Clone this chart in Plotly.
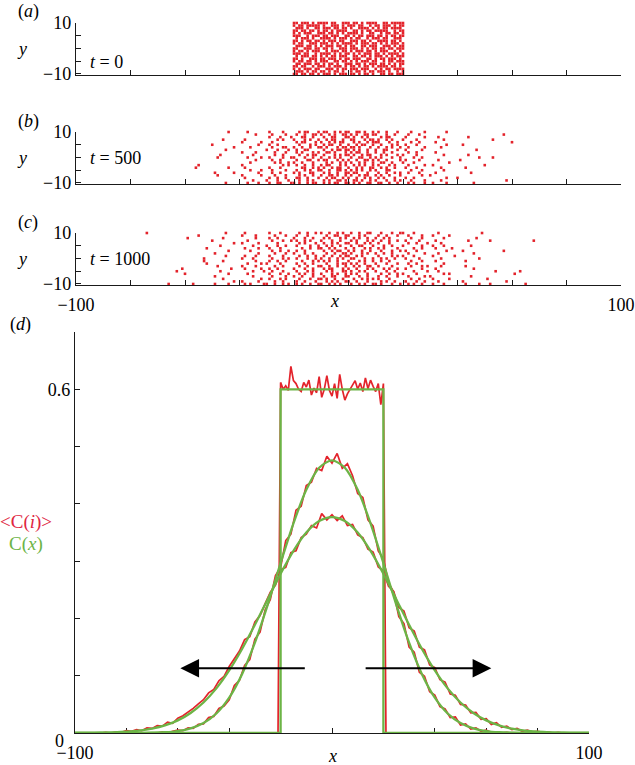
import plotly.graph_objects as go

W, H = 635, 765
FONT = "Liberation Serif, Times New Roman, serif"
RED = "#e3232b"
RED_TXT = "#e0263f"
GREEN = "#6cb446"
AXC = "#1a1a1a"

# ---------------- data ----------------
x_tick_vals = [-100, -80, -60, -40, -20, 0, 20, 40, 60, 80, 100]
x_tick_text_edge = ["\u2212100", "", "", "", "", "", "", "", "", "", "100"]
y_tick_vals_abc = [-10, -5, 0, 5, 10]
y_tick_text_abc = ["\u221210", "", "", "", "10"]
y_tick_vals_d = [0, 0.1, 0.2, 0.3, 0.4, 0.5, 0.6, 0.7]
y_tick_text_d = ["", "", "", "", "", "", "0.6", ""]

# lattice occupancy rows, y = 10 .. -10 ('o' = occupied site, '|' = chunk separator only)
panel_a_x0 = -20
panel_a_rows = [
    "oo.ooo.o.oooo.oo..ooo.oo.o.oooo..oo.ooooo",
    "o.oo.ooooo.o..ooo.o.ooo.oo..o.oo.ooo.o.oo",
    ".ooo.o..oo.ooo.oo.oo.o..oooo.o.o.oo.oooo.",
    "oo.oo.oo.o.oo.o.oooo..oo.o.oo.ooooo..o.oo",
    "o.o.ooo..ooo.oo.o.o.oooo.o..oo..o.oo.oo.o",
    "ooo..o.ooo.oo.ooo..oo.o.oo.ooo.oo.o.oo.oo",
    ".o.ooo.o..oooo.o.ooo.o.oo..o.ooo.oo..ooo.",
    "oo.o.oo.oo.o.ooo.oo..ooo.oo.o..oooo.oo.o.",
    "o.oo..ooo.ooo.o.o.oooo.o.ooo.oo.o.o.ooo.o",
    ".ooo.oo.o.o.ooo.oo.o.oo..oo.ooo..ooo.o.oo",
    "oo..ooo.oo.oo.o..ooo.ooo.o.o.oo.oo.oo.ooo",
    "o.oo.o.ooo..o.ooo.oo.o.ooo.oo.o.ooo..o.o.",
    "ooo.oo..o.oooo.o.o.oo.o.o.ooo.oo.o.oooo.o",
    ".o.ooo.oo.o.o.oo.ooo..oo.oo.o.ooo.o.o.ooo",
    "oo.o..ooo.oo.ooo.o.oo.ooo..oo.o.oo.ooo.o.",
    "o.oo.oo.o.ooo..oo.oo.o.o.ooo.oo..o.oo.ooo",
    ".oo.ooo.oo.o.oo.o..ooo.oo.o.ooo.oo.o.o.oo",
    "oo.oo..o.ooo.o.ooo.o.oo.o.oo.o.oooo.oo.o.",
    "o.o.ooo.oo..ooo.o.oo.ooo.ooo..o.o.oo.oooo",
    ".ooo.o.oo.oo.o.oo.o..o.oo.o.oo.ooo.o..o.o",
    "oo.oo.oo.o.ooo.o.ooo.oo.o.oo.o..oo.oo.ooo",
]

# t = 500, x = -60 .. 60 in chunks of 10
panel_b_x0 = -60
panel_b_rows = [
    "..........|......o...|...o......|.o....o...|..o.oo...o|.oo..o.o.o|o..oo.o..o|.o..o...o.|...o....o.|......o...|..........|..........|.",
    "..........|..........|......o...|..o....o..|.o..o..oo.|o..o.o..oo|.o.o..oo.o|o...o..o..|..o...o...|..........|..........|.......o..|.",
    "..........|..........|..........|.o...o...o|...oo..o..|.o..oo...o|o.o..o.o..|..o.oo....|.o......o.|...o......|....o.....|..........|.",
    "..........|....o.....|..o.......|....o.o...|o...o.o..o|..o.oo..o.|.oo...o.oo|.o..o.o...|o....o....|.....o....|..........|...o......|.",
    "..........|..........|.o......o.|..o.......|.o.oo...o.|o..o.o.oo.|..o.o..o.o|oo...o..o.|...o..o...|..o.......|..........|..........|o",
    "..........|o.........|.......o..|.o..o.....|..o...o.o.|.o.oo..o..|o..o.oo..o|..o...o.o.|.o...o....|......o...|..o.......|..........|.",
    "..........|........o.|....o.....|..o...oo..|o..o..o..o|o.o...o.oo|.oo.o...o.|.o..o.o..o|..o.....o.|....o.....|..........|..........|.",
    "..........|.....o....|..........|o...o...o.|.o..oo....|.o..o.oo.o|o.o.o..o..|o..oo...o.|.o.....o..|..........|.......o..|..........|.",
    "..........|..........|.o....o...|...o...o..|.o.o...o.o|..oo.o...o|.o.oo..o..|o..o..o...|..o..o....|..o.......|..........|..........|.",
    "..........|...o......|.....o....|...o..o...|..o..o.oo.|.o...o.o.o|o.o..o.oo.|..o.o...o.|o....o....|.....o....|....o.....|..........|.",
    "..........|..o.......|...o....o.|.o....o..o|o...o..o..|o..o.o.o..|.o..oo..o.|o.o...o..o|....o..o..|..........|........o.|...o......|.",
    "..........|..........|......o...|..o..o....|.o...oo..o|.oo...o.o.|o..o..oo.o|.o..o....o|.o....o...|...o......|.o........|..........|.",
    "..........|..........|....o.....|...o.o..o.|o..o...o..|..o.o..o.o|.o..o.o..o|..oo..o...|o...o.....|.......o..|..........|..........|.",
    ".....o....|..........|.o........|......o.o.|.o..o..o..|o.oo...o.o|..o.o.o..o|.o...o.o..|..o.....o.|.o........|..........|o.........|.",
    "....o.....|......o...|..o.......|.o...o....|...oo..o.o|.o..o.oo..|o..o.o..oo|..o.o..o..|.o...o....|....o.....|...o......|..........|.",
    "..........|..........|....o...o.|..o....o..|.o..o.o..o|o..o..oo.o|.o.o.o..o.|o...oo....|...o...o..|.....o....|..........|..........|.",
    "..........|.o......o.|.......o..|..o..o....|o.o...oo..|.o.o..o..o|o.oo...o..|.o..o..o.o|..o...o...|..o.......|.....o....|..........|.",
    "..........|..o.......|.o......o.|...o...o..|..o.o..o..|o..oo.o..o|.o..o.oo..|o.o..o...o|.......o..|o.........|..........|..........|.",
    "..........|..........|..o.......|.o..o..o..|.oo..o...o|..o.oo..o.|o..o..o.o.|.o.o...o..|.o..o.....|......o...|o.........|..........|.",
    "..........|..........|.....o....|o...o...o.|..o..o.o..|.o.o..oo.o|..oo.o..o.|o...o..o.o|...o....o.|....o.....|..........|........o.|.",
    "..........|.....o....|...o...o..|.o..oo...o|o.o..o.oo.|.o.o.oo..o|o.o.o..oo.|.oo..o..o.|..o.o...o.|.o....o...|......o...|..........|.",
]

# t = 1000, x = -80 .. 69 in chunks of 10
panel_c_x0 = -80
panel_c_rows = [
    "......o...|..........|..........|.....o....|..o.......|.o...o....|..o..o..o.|o..o..o.o.|.o..o..oo.|..o...o..o|o...o.....|...o......|.........o|..........|..........",
    "..........|..........|.....o....|..........|.o....o...|...o...o..|.o...o....|..o..oo..o|o...o.o...|.o..o...o.|..o....o..|.o.....o..|..........|..........|..........",
    "..........|..........|.o........|....o.....|......o...|.o..o.....|o...o..o..|.o.o...o.o|..o.o..o..|o..o.o....|...o...o..|.....o....|.......o..|..........|..........",
    "..........|..........|..........|o.........|...o......|..o...o..o|.o..o.o...|o...o..o..|.o.o...o.o|..o..o..o.|.o....o...|..o.......|....o.....|..o.......|........o.",
    "..........|..........|..........|........o.|.o.....o..|....o.....|..o.o...o.|.o..o.o..o|o..o..o.o.|.o...o....|..o..o...o|....o.....|..........|..........|..........",
    "..........|..........|..........|...o......|.....o....|o...o..o..|.o....o..o|..o.o..o..|.o..oo...o|...o..o...|o......o..|.o...o....|.....o....|..........|..........",
    "..........|..........|........o.|..........|..o....o..|.o...o....|...o..o..o|o..o.o...o|..o...o.o.|.o.o....o.|....o..o..|..o.....o.|..........|..........|..........",
    "..........|..........|..........|......o...|....o.....|..o..o..o.|.o..o.....|.o..o.oo..|o.o..o..o.|..o...o..o|.o...o....|......o...|..o.......|.......o..|..........",
    "..........|..........|..........|.o........|.......o..|...o...o..|o...o..o..|..o..o..oo|.o...o.o..|o..o..o...|..o.....o.|...o......|......o...|..........|..........",
    "..........|..........|..........|.....o....|..o...o...|.o....o...|..o..o..o.|.o..o..o.o|o..o.o....|.o....o.o.|o...o.....|.o.......o|..........|..........|..........",
    "..........|..........|.......o..|..........|.o...o....|..o...o.o.|.o...o..o.|o..o..o.o.|.oo...o..o|..o.o..o..|.o....o...|....o.....|........o.|..........|..........",
    "..........|..........|.......o..|....o.....|......o...|.o..o..o..|...o...o.o|.o.o..o...|o...o.o..o|..o..o....|...o...o..|..o.......|...o......|..........|..........",
    "..........|..........|........o.|..........|...o....o.|o....o....|.o..o..o..|..o...o.oo|.o.o..o...|o...o...o.|..o..o....|.....o....|..........|..........|..........",
    "..........|..........|..........|..o.......|.o....o...|...o..o...|..o..o...o|o..o..o..o|..o.o..oo.|.o....o...|...o...o.o|....o.....|...o......|..........|..........",
    "..........|.........o|..........|.......o..|..o.....o.|.o..o.....|o...o..o..|.o.oo...o.|o..o...o.o|...o.o..o.|.o.....o..|..o.......|......o...|..........|..........",
    "..........|.......o..|..........|...o......|.....o...o|..o...o...|.o...o.o..|..o.o...oo|.o..o.o...|o...o..o..|....o....o|...o......|..........|....o.....|...o......",
    "..........|..........|o.........|......o...|...o......|.o...o..o.|..o.o..o..|o...o.o..o|.o.o...o..|..o..o..o.|o....o....|.....o.o..|..........|..........|.o........",
    "..........|..........|..........|.o........|.....o....|..o....o..|o..o...o..|.o..oo...o|o...o..o..|.o..o...o.|..o.....o.|o.........|.....o....|..........|..........",
    "..........|..........|..........|....o.....|........o.|.o...o.o..|..o...o..o|o.o..o..o.|..o..o.o.o|.o...o....|...o..o...|.o.....o..|..........|.o........|..........",
    "..........|..........|..........|........o.|.o.....o..|...o..o...|.o..o...o.|..o.o.o..o|o..o...o..|..o.o..o..|.o...o..o.|...o......|..o.......|........o.|..........",
    "..........|....o.....|...o......|.o....o...|..o.o....o|o..o..o.o.|.o.o..o..o|o..o.o.o..|.o..o.o..o|o.o...o..o|..o.o..o..|.o...o....|...o....o.|..o.......|.....o....",
]

# panel (d): averaged simulation profiles <C(i)>
x_red_t0 = [-100] + list(range(-21, 22)) + [100]
red_t0 = [0, 0,
          0.612, 0.600, 0.606, 0.598, 0.640, 0.615, 0.610, 0.600, 0.596, 0.612,
          0.604, 0.616, 0.590, 0.602, 0.594, 0.622, 0.586, 0.600, 0.624, 0.598,
          0.588, 0.610, 0.584, 0.626, 0.600, 0.581, 0.592, 0.600, 0.606, 0.615,
          0.600, 0.611, 0.596, 0.620, 0.601, 0.616, 0.605, 0.596, 0.610, 0.573,
          0.610,
          0, 0]

x_red_t500 = list(range(-70, 71, 2))
red_t500 = [0, 0, 0.002, 0, 0.003, 0.005, 0.004, 0.009, 0.008, 0.015,
            0.016, 0.027, 0.029, 0.043, 0.047, 0.058, 0.083, 0.092, 0.118, 0.128,
            0.164, 0.176, 0.215, 0.233, 0.275, 0.289, 0.336, 0.347, 0.389, 0.396,
            0.432, 0.438, 0.462, 0.458, 0.483, 0.471, 0.488, 0.462, 0.470, 0.449,
            0.418, 0.411, 0.372, 0.361, 0.318, 0.304, 0.262, 0.246, 0.203, 0.191,
            0.150, 0.141, 0.106, 0.099, 0.072, 0.066, 0.046, 0.042, 0.027, 0.028,
            0.014, 0.016, 0.007, 0.009, 0.003, 0.005, 0.001, 0.002, 0, 0.001, 0]

x_red_t1000 = list(range(-90, 91, 2))
red_t1000 = [0, 0.001, 0, 0.002, 0.001, 0.004, 0.003, 0.006, 0.004, 0.009,
             0.008, 0.013, 0.012, 0.019, 0.017, 0.026, 0.030, 0.036, 0.043, 0.051,
             0.058, 0.070, 0.076, 0.091, 0.099, 0.116, 0.129, 0.143, 0.163, 0.168,
             0.194, 0.205, 0.226, 0.246, 0.258, 0.285, 0.289, 0.315, 0.318, 0.341,
             0.347, 0.362, 0.358, 0.383, 0.372, 0.381, 0.371, 0.379, 0.362, 0.364,
             0.346, 0.341, 0.321, 0.316, 0.290, 0.283, 0.256, 0.247, 0.219, 0.213,
             0.184, 0.178, 0.150, 0.145, 0.119, 0.114, 0.093, 0.089, 0.068, 0.066,
             0.050, 0.049, 0.035, 0.036, 0.024, 0.025, 0.015, 0.018, 0.010, 0.012,
             0.006, 0.008, 0.003, 0.005, 0.002, 0.003, 0.001, 0.002, 0, 0.001, 0]

# continuum profiles C(x)
x_green_t0 = [-100, -20, -20, 20, 20, 100]
green_t0 = [0, 0, 0.6, 0.6, 0, 0]
x_green = list(range(-100, 101, 5))
green_t500 = [0, 0, 0, 0, 0, 0, 0.0005, 0.0013, 0.0034, 0.0081, 0.0174, 0.0341, 0.0617,
              0.1027, 0.1576, 0.224, 0.2966, 0.366, 0.4245, 0.463, 0.476, 0.463, 0.4245,
              0.366, 0.2966, 0.224, 0.1576, 0.1027, 0.0617, 0.0341, 0.0174, 0.0081, 0.0034,
              0.0013, 0.0005, 0, 0, 0, 0, 0, 0]
green_t1000 = [0.0001, 0.0002, 0.0005, 0.0011, 0.0022, 0.0041, 0.0076, 0.0132, 0.022, 0.035,
               0.0533, 0.0779, 0.1092, 0.1466, 0.1888, 0.2336, 0.278, 0.318, 0.350, 0.370,
               0.377,
               0.370, 0.350, 0.318, 0.278, 0.2336, 0.1888, 0.1466, 0.1092, 0.0779, 0.0533,
               0.035, 0.022, 0.0132, 0.0076, 0.0041, 0.0022, 0.0011, 0.0005, 0.0002, 0.0001]

# arrows (start x, end x, height)
arrow_left = (-10, -59, 0.113)
arrow_right = (12.5, 62, 0.113)

# ---------------- build ----------------
def grid_points(rows, x0):
    xs, ys = [], []
    for r, row in enumerate(rows):
        j = 0
        for ch in row:
            if ch == "|":
                continue
            if ch == "o":
                xs.append(x0 + j)
                ys.append(10 - r)
            j += 1
    return xs, ys


fig = go.Figure()
mk = dict(symbol="square", size=2.6, color=RED, line=dict(width=0))

for (xs, ys), ax_id in [
    (grid_points(panel_a_rows, panel_a_x0), ("x", "y")),
    (grid_points(panel_b_rows, panel_b_x0), ("x2", "y2")),
    (grid_points(panel_c_rows, panel_c_x0), ("x3", "y3")),
]:
    fig.add_trace(go.Scatter(x=xs, y=ys, mode="markers", marker=mk, xaxis=ax_id[0],
                             yaxis=ax_id[1], cliponaxis=False, showlegend=False,
                             hoverinfo="skip"))

for xs, ys in [(x_red_t0, red_t0), (x_red_t500, red_t500), (x_red_t1000, red_t1000)]:
    fig.add_trace(go.Scatter(x=xs, y=ys, mode="lines", line=dict(color=RED, width=1.7),
                             xaxis="x4", yaxis="y4", cliponaxis=False, showlegend=False))

fig.add_trace(go.Scatter(x=x_green_t0, y=green_t0, mode="lines",
                         line=dict(color=GREEN, width=2.3), xaxis="x4", yaxis="y4",
                         cliponaxis=False, showlegend=False))
for ys in [green_t500, green_t1000]:
    fig.add_trace(go.Scatter(x=x_green, y=ys, mode="lines",
                             line=dict(color=GREEN, width=2.3, shape="spline", smoothing=0.8),
                             xaxis="x4", yaxis="y4", cliponaxis=False, showlegend=False))


def xdom(l, r):
    return [l / W, r / W]


def ydom(top, bottom):
    return [1 - bottom / H, 1 - top / H]


def px(xp):
    return xp / W


def py(yp):
    return 1 - yp / H


common = dict(showline=True, linecolor=AXC, linewidth=1.3, ticks="inside", ticklen=5,
              tickwidth=1.2, tickcolor=AXC, showgrid=False, zeroline=False,
              automargin=False, fixedrange=True,
              tickfont=dict(family=FONT, size=18, color="black"))

tops = {"a": (22.5, 75), "b": (131.5, 184), "c": (232.5, 285)}

layout = dict(
    width=W, height=H, margin=dict(l=0, r=0, t=0, b=0), autosize=False,
    template="none", paper_bgcolor="white", plot_bgcolor="white",
    font=dict(family=FONT, size=18, color="black"), showlegend=False,
)
for i, key in enumerate(["a", "b", "c"], start=1):
    sfx = "" if i == 1 else str(i)
    layout["xaxis" + sfx] = dict(domain=xdom(76, 621), range=[-100, 100], tickvals=x_tick_vals,
                                 ticktext=x_tick_text_edge, showticklabels=(key == "c"),
                                 ticklabelstandoff=3, anchor="y" + sfx, **common)
    layout["yaxis" + sfx] = dict(domain=ydom(*tops[key]), range=[-10.4, 10.2],
                                 tickvals=y_tick_vals_abc, ticktext=y_tick_text_abc,
                                 anchor="x" + sfx, **common)

layout["xaxis4"] = dict(domain=xdom(75, 589), range=[-100, 100], tickvals=x_tick_vals,
                        ticktext=x_tick_text_edge, ticklabelstandoff=3, anchor="y4",
                        layer="below traces", **common)
layout["yaxis4"] = dict(domain=ydom(332, 733), range=[0, 0.7], tickvals=y_tick_vals_d,
                        ticktext=y_tick_text_d, anchor="x4", layer="below traces", **common)

fig.update_layout(**layout)

ann = []


def txt(x, y, s, color="black", size=18, xanchor="center"):
    ann.append(dict(x=px(x), y=py(y), xref="paper", yref="paper", text=s, showarrow=False,
                    xanchor=xanchor, yanchor="middle",
                    font=dict(family=FONT, size=size, color=color)))


txt(28, 12, "(<i>a</i>)")
txt(28, 121, "(<i>b</i>)")
txt(28, 222, "(<i>c</i>)")
txt(20, 324, "(<i>d</i>)")
for yc in [49, 158, 259]:
    txt(22, yc, "<i>y</i>")
txt(88, 62, "<i>t</i> = 0", xanchor="left")
txt(88, 158, "<i>t</i> = 500", xanchor="left")
txt(88, 259, "<i>t</i> = 1000", xanchor="left")
txt(335, 301, "<i>x</i>")
txt(332, 756, "<i>x</i>")
txt(66, 741, "0", xanchor="right")
txt(26, 522, "&lt;C(<i>i</i>)&gt;", color=RED_TXT, size=19)
txt(26, 544, "C(<i>x</i>)", color=GREEN, size=19)

for (x0, x1, yv) in [arrow_left, arrow_right]:
    ann.append(dict(x=x1, y=yv, ax=x0, ay=yv, xref="x4", yref="y4", axref="x4", ayref="y4",
                    text="", showarrow=True, arrowhead=2, arrowsize=1.7, arrowwidth=2.2,
                    arrowcolor="black", standoff=0, startstandoff=0))

fig.update_layout(annotations=ann)
fig.write_html("out.html", config={"displayModeBar": False},
               post_script="document.body.style.margin='0';document.body.style.overflow='hidden';")
